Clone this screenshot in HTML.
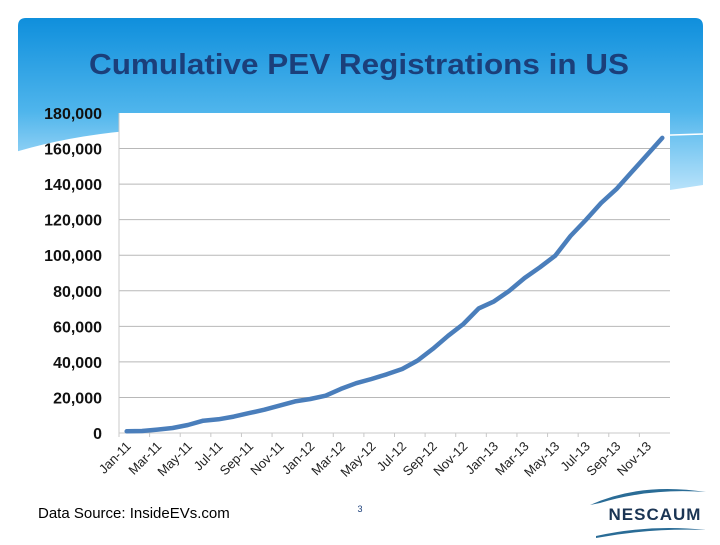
<!DOCTYPE html>
<html><head><meta charset="utf-8"><style>
body{margin:0;width:720px;height:540px;overflow:hidden;background:#fff;font-family:"Liberation Sans",sans-serif}
</style></head><body>
<svg width="720" height="540" xmlns="http://www.w3.org/2000/svg">
<defs>
<linearGradient id="bg" x1="0" y1="0" x2="0" y2="1">
<stop offset="0" stop-color="#0f8fdc"/><stop offset="0.7" stop-color="#4fb5ec"/><stop offset="1" stop-color="#8ccff4"/>
</linearGradient>
<linearGradient id="wv" x1="0" y1="0" x2="0" y2="1">
<stop offset="0" stop-color="#6cc2f0"/><stop offset="1" stop-color="#b8e2fa"/>
</linearGradient>
</defs>
<path d="M18,26 Q18,18 26,18 L695,18 Q703,18 703,26 L703,134 Q480,142 260,130 Q120,122 18,152 Z" fill="url(#bg)"/>
<path d="M560,138 Q640,136 703,134 L703,185 L670,190 L560,190 Z" fill="url(#wv)"/>
<path d="M18,152 Q120,122 260,130 Q480,142 703,134" fill="none" stroke="#fff" stroke-width="1.5"/>
<text x="359" y="74" text-anchor="middle" font-size="29" font-weight="bold" fill="#1b3f7a" font-family="Liberation Sans, sans-serif" textLength="540" lengthAdjust="spacingAndGlyphs">Cumulative PEV Registrations in US</text>
<g id="chart"></g>
<text x="38" y="518" font-size="15" fill="#000">Data Source: InsideEVs.com</text>
<text x="360" y="512" font-size="9" fill="#1b3f7a" text-anchor="middle">3</text>
<g>
<path d="M590,505 Q640,482 706,492 Q650,488 600,503 Z" fill="#2a6c96"/>
<path d="M596,536 Q650,524 706,530 Q650,528 596,538 Z" fill="#2a6c96"/>
<text x="655" y="520" font-size="17" font-weight="bold" fill="#1b3554" text-anchor="middle" letter-spacing="1">NESCAUM</text>
</g>
</svg>
<script>
const categories=["Jan-11","Feb-11","Mar-11","Apr-11","May-11","Jun-11","Jul-11","Aug-11","Sep-11","Oct-11","Nov-11","Dec-11","Jan-12","Feb-12","Mar-12","Apr-12","May-12","Jun-12","Jul-12","Aug-12","Sep-12","Oct-12","Nov-12","Dec-12","Jan-13","Feb-13","Mar-13","Apr-13","May-13","Jun-13","Jul-13","Aug-13","Sep-13","Oct-13","Nov-13","Dec-13"];
const registrations=[940,1100,1900,2800,4500,6900,7700,9200,11200,13100,15400,17800,19100,21000,24800,28000,30400,33000,36000,40700,47300,54700,61300,70100,74000,80000,87200,93200,99750,110800,119800,129400,137200,146800,156400,166000];
const yTicks=[0,20000,40000,60000,80000,100000,120000,140000,160000,180000];
const NS="http://www.w3.org/2000/svg";
const g=document.getElementById('chart');
const X0=119,X1=670,Y0=433,Y1=113,YMAX=180000;
const bw=(X1-X0)/categories.length;
const xs=i=>X0+bw*(i+0.5);
const ys=v=>Y0-(v/YMAX)*(Y0-Y1);
function mk(t,a){const e=document.createElementNS(NS,t);for(const k in a)e.setAttribute(k,a[k]);g.appendChild(e);return e;}
let e=mk('rect',{x:X0,y:Y1,width:X1-X0,height:Y0-Y1,fill:'#fff'});


yTicks.forEach(v=>{
 if(v>0&&v<YMAX){const l=mk('line',{x1:X0,x2:X1,y1:ys(v),y2:ys(v),stroke:'#b8b8b8','stroke-width':1});
 
 }
 const t=mk('text',{x:102,y:ys(v)+6,'text-anchor':'end','font-size':16,'font-weight':'bold',fill:'#111'});
 t.textContent=v.toLocaleString('en-US');
 
 
});
e=mk('line',{x1:X0,x2:X0,y1:Y1,y2:Y0,stroke:'#c8c8c8'});


e=mk('line',{x1:X0,x2:X1,y1:Y0,y2:Y0,stroke:'#c8c8c8'});


categories.forEach((c,i)=>{
 if(i%2===0){
  const tx=X0+bw*i;
  const tk=mk('line',{x1:tx,x2:tx,y1:Y0,y2:Y0+4,stroke:'#c8c8c8'});
  
  
  const x=xs(i)+5,y=Y0+14;
  const t=mk('text',{x:x,y:y,'text-anchor':'end','font-size':13,fill:'#222',transform:`rotate(-45 ${x} ${y})`});
  t.textContent=c;
  
  
 }
});
const pts=registrations.map((v,i)=>xs(i).toFixed(1)+','+ys(v).toFixed(1)).join(' ');
e=mk('polyline',{points:pts,fill:'none',stroke:'#4a7ebb','stroke-width':4.5,'stroke-linejoin':'round','stroke-linecap':'round'});


</script>
</body></html>
